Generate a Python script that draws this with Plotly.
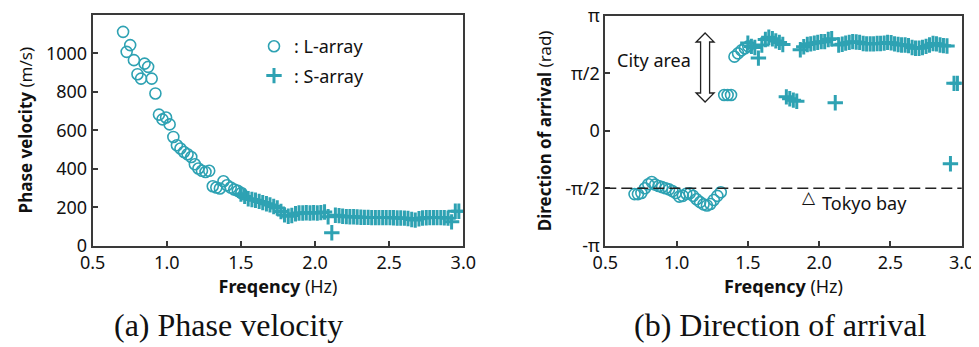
import math
import plotly.graph_objects as go
from plotly.subplots import make_subplots

# ---------------- data ----------------
freq_L = [0.705, 0.729, 0.753, 0.778, 0.802, 0.826, 0.850, 0.874, 0.898, 0.923,
          0.947, 0.971, 0.995, 1.019, 1.044, 1.068, 1.092, 1.116, 1.140, 1.165,
          1.189, 1.213, 1.237, 1.261, 1.286, 1.310, 1.334, 1.358, 1.382, 1.406,
          1.431, 1.455, 1.479, 1.503]
vel_L = [1111, 1007, 1042, 964, 891, 868, 946, 929, 868, 791,
         681, 656, 666, 630, 565, 522, 505, 487, 475, 461,
         423, 401, 389, 383, 389, 309, 302, 297, 335, 314,
         302, 292, 285, 274]
doa_L = [-1.73, -1.73, -1.70, -1.57, -1.46, -1.40, -1.47, -1.51, -1.54, -1.57,
         -1.60, -1.65, -1.70, -1.80, -1.78, -1.72, -1.71, -1.78, -1.87, -1.95,
         -2.01, -2.04, -2.00, -1.89, -1.78, -1.68, 0.98, 0.98, 0.98, 2.03,
         2.12, 2.20, 2.26, 2.31]

freq_S = [1.500, 1.525, 1.549, 1.574, 1.598, 1.623, 1.647, 1.672, 1.696, 1.721,
          1.745, 1.770, 1.794, 1.819, 1.843, 1.868, 1.892, 1.917, 1.941, 1.966,
          1.990, 2.015, 2.039, 2.064, 2.088, 2.113, 2.137, 2.162, 2.186, 2.211,
          2.235, 2.260, 2.284, 2.309, 2.333, 2.358, 2.382, 2.407, 2.431, 2.456,
          2.480, 2.505, 2.529, 2.554, 2.578, 2.603, 2.627, 2.652, 2.676, 2.701,
          2.725, 2.750, 2.774, 2.799, 2.823, 2.848, 2.872, 2.897, 2.921, 2.946,
          2.970]
vel_S = [268, 256, 244, 240, 236, 230, 224, 218, 212, 204,
         196, 178, 160, 153, 157, 166, 170, 170, 171, 170,
         171, 170, 172, 175, 150, 67, 158, 156, 153, 151,
         150, 150, 149, 148, 147, 147, 146, 146, 146, 146,
         146, 146, 145, 144, 144, 143, 141, 136, 133, 140,
         144, 145, 146, 146, 146, 146, 145, 143, 124, 179,
         179]
doa_S = [2.40, 2.31, 2.28, 1.99, 2.35, 2.50, 2.56, 2.52, 2.46, 2.42,
         2.36, 0.93, 0.88, 0.84, 0.81, 2.22, 2.30, 2.36, 2.38, 2.40,
         2.42, 2.44, 2.44, 2.50, 2.52, 0.77, 2.35, 2.37, 2.40, 2.42,
         2.44, 2.43, 2.42, 2.39, 2.38, 2.38, 2.38, 2.39, 2.39, 2.40,
         2.42, 2.41, 2.38, 2.36, 2.35, 2.35, 2.33, 2.28, 2.26, 2.26,
         2.28, 2.31, 2.35, 2.39, 2.38, 2.35, 2.33, 2.32, -0.90, 1.30,
         1.30]

vel_ticks = [0, 200, 400, 600, 800, 1000]
freq_ticks = [0.5, 1.0, 1.5, 2.0, 2.5, 3.0]
freq_ticktext = ["0.5", "1.0", "1.5", "2.0", "2.5", "3.0"]
doa_ticks = [-math.pi, -math.pi / 2, 0, math.pi / 2, math.pi]
doa_ticktext = ["-π", "-π/2", "0", "π/2", "π"]

TEAL = "#2ea2b3"
FONT = "Noto Sans"

# the page body has an 8px margin -> lay out in window pixels, shifted
OX, OY = 8, 8
W, H = 979 - OX, 347 - OY


def px(x):
    return (x - OX) / W


def py(y):
    return 1 - (y - OY) / H


fig = make_subplots(rows=1, cols=2)

circ = dict(symbol="circle-open", size=11, color=TEAL, line=dict(width=1.6, color=TEAL))
plus = dict(symbol="cross-thin", size=11, color=TEAL, line=dict(width=3, color=TEAL))

fig.add_trace(go.Scatter(x=freq_L, y=vel_L, mode="markers", name=": L-array",
                         legendgroup="L", marker=circ), 1, 1)
fig.add_trace(go.Scatter(x=freq_S, y=vel_S, mode="markers", name=": S-array",
                         legendgroup="S", marker=plus), 1, 1)
fig.add_trace(go.Scatter(x=freq_L, y=doa_L, mode="markers", showlegend=False,
                         marker=circ), 1, 2)
fig.add_trace(go.Scatter(x=freq_S, y=doa_S, mode="markers", showlegend=False,
                         marker=plus), 1, 2)

axis_common = dict(showline=True, linecolor="#3a3a3a", linewidth=2, mirror=True,
                   ticks="inside", ticklen=5, tickwidth=2, tickcolor="#3a3a3a",
                   showgrid=False, zeroline=False, automargin=False,
                   ticklabeloverflow="allow",
                   tickfont=dict(family=FONT, size=18, color="#111"))

fig.update_xaxes(**axis_common, range=[0.5, 3.0], tickvals=freq_ticks,
                 ticktext=freq_ticktext,
                 title=dict(text="<b>Freqency</b> (Hz)", standoff=6,
                            font=dict(family=FONT, size=18, color="#111")))
fig.update_xaxes(domain=[px(92.7), px(463.3)], row=1, col=1)
fig.update_xaxes(domain=[px(605.3), px(961.7)], row=1, col=2)

fig.update_yaxes(**axis_common)
fig.update_yaxes(range=[0, 1200], tickvals=vel_ticks, domain=[py(245.7), py(14.7)],
                 title=dict(text="<b>Phase velocity</b> (m/s)", standoff=9,
                            font=dict(family=FONT, size=17, color="#111")),
                 row=1, col=1)
fig.update_yaxes(range=[-3.14162, 3.14162], tickvals=doa_ticks, ticktext=doa_ticktext,
                 domain=[py(245.7), py(16)],
                 title=dict(text="<b>Direction of arrival</b> (rad)", standoff=9,
                            font=dict(family=FONT, size=17, color="#111")),
                 row=1, col=2)

# dashed reference line at -pi/2
fig.add_shape(type="line", xref="x2 domain", yref="y2", x0=0, x1=1,
              y0=-math.pi / 2, y1=-math.pi / 2,
              line=dict(color="#222", width=1.5, dash="11px,5px"))

# hollow double-headed arrow (City area)
fig.add_shape(type="path", xref="x2", yref="y2", xsizemode="pixel", xanchor=1.2,
              path="M 0,2.677 L 9,2.43 L 4.5,2.43 L 4.5,1.035 L 9,1.035 L 0,0.789 "
                   "L -9,1.035 L -4.5,1.035 L -4.5,2.43 L -9,2.43 Z",
              fillcolor="white", line=dict(color="#222", width=1.3))

fig.add_annotation(x=0.842, y=1.94, xref="x2", yref="y2", text="City area",
                   showarrow=False, font=dict(family=FONT, size=18, color="#111"))
fig.add_annotation(x=1.928, y=-1.80, xref="x2", yref="y2", text="△",
                   showarrow=False, font=dict(family="DejaVu Sans", size=17, color="#111"))
fig.add_annotation(x=2.318, y=-1.97, xref="x2", yref="y2", text="Tokyo bay",
                   showarrow=False, font=dict(family=FONT, size=18, color="#111"))

# captions
fig.add_annotation(x=px(228), y=py(325), xref="paper", yref="paper",
                   xanchor="center", yanchor="middle",
                   text="(a) Phase velocity", showarrow=False,
                   font=dict(family="Liberation Serif", size=32, color="#111"))
fig.add_annotation(x=px(780), y=py(325), xref="paper", yref="paper",
                   xanchor="center", yanchor="middle",
                   text="(b) Direction of arrival", showarrow=False,
                   font=dict(family="Liberation Serif", size=32, color="#111"))

fig.update_layout(
    width=W, height=H,
    margin=dict(l=0, r=0, t=0, b=0),
    paper_bgcolor="white", plot_bgcolor="white",
    showlegend=True,
    legend=dict(x=px(254), y=py(28), xanchor="left", yanchor="top",
                bgcolor="rgba(0,0,0,0)", tracegroupgap=3, itemwidth=30,
                font=dict(family=FONT, size=18, color="#111")),
)

fig.write_html("out.html")
